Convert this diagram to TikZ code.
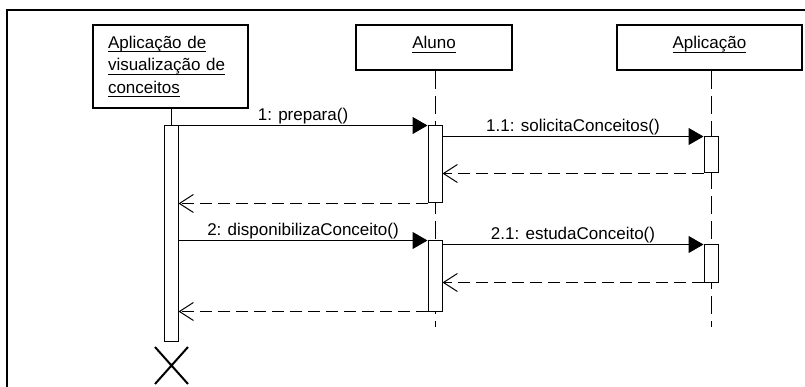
\documentclass[tikz,border=0pt]{standalone}
\usepackage{fontspec}
\setmainfont{Liberation Sans}
\usetikzlibrary{arrows.meta,shapes.misc}
% underlined object name with a fixed underline offset
\newcommand\uln[1]{\leavevmode\setbox0\hbox{#1}\rlap{\rule[-4.2pt]{\wd0}{0.9pt}}\box0}
\begin{document}
\begin{tikzpicture}[x=1pt,y=-1pt,
  every node/.style={font=\fontsize{17}{22.5}\selectfont},
  head/.style={draw,line width=2pt,minimum height=45pt,inner sep=0pt},
  life/.style={line width=1pt,dash pattern=on 18pt off 7pt},
  act/.style={draw,fill=white,line width=1pt,minimum width=14pt,inner sep=0pt},
  call/.style={line width=1pt,-{Triangle[length=15pt,width=17pt]}},
  reply/.style={line width=1pt,dash pattern=on 12pt off 6pt,-{Straight Barb[length=14pt,width=18pt]}},
  msg/.style={midway,anchor=base,yshift=5pt,inner sep=0pt}]
\useasboundingbox (0,0) rectangle (805,387);
\clip (0,0) rectangle (805,387);

% frame
\draw[line width=2pt] (7,395) -- (7,10) -- (812,10);

% object heads
\node[head,minimum width=155pt,minimum height=83pt,align=left,text width=125pt] (h1) at (170.5,66.5)
  {\uln{Aplicação de}\\\uln{visualização de}\\\uln{conceitos}};
\node[head,minimum width=156pt,text height=12.4pt,text depth=9.4pt] (h2) at (434,47.5) {\uln{Aluno}};
\node[head,minimum width=185pt,text height=12.4pt,text depth=9.4pt] (h3) at (709.5,47.5) {\uln{Aplicação}};

% lifelines
\coordinate (e2) at (435,327);
\coordinate (e3) at (711,327);
\draw[life] (e2 |- h2.south) -- (e2);
\draw[life] (e3 |- h3.south) -- (e3);

% activations
\node[act,minimum height=215pt] (a1) at (171,233.5) {};
\node[act,minimum height=77pt] (a2a) at (435,164.5) {};
\node[act,minimum height=70pt] (a2b) at (435,276) {};
\node[act,minimum height=36pt] (a3a) at (711,155) {};
\node[act,minimum height=37pt] (a3b) at (711,263.5) {};
\draw[line width=1pt] (a1.north |- h1.south) -- (a1.north);

% messages
\draw[call] (a1.east |- a2a.north) -- node[msg] (t1) {1: prepara()} (a2a.north west);
\draw[call] (a2a.east |- a3a.north) -- node[msg] (t11) {1.1: solicitaConceitos()} (a3a.north west);
\draw[reply] (a3a.south west) -- (a2a.east |- a3a.south);
\draw[reply] (a2a.south west) -- (a1.east |- a2a.south);
\draw[call] (a1.east |- a2b.north) -- node[msg] (t2) {2: disponibilizaConceito()} (a2b.north west);
\draw[call] (a2b.east |- a3b.north) -- node[msg] (t21) {2.1: estudaConceito()} (a3b.north west);
\draw[reply] (a3b.south west) -- (a2b.east |- a3b.south);
\draw[reply] (a2b.south west) -- (a1.east |- a2b.south);

% destruction
\node[draw,cross out,line width=2pt,minimum width=31pt,minimum height=35pt,inner sep=0pt] (x1) at (171.5,365.5) {};
\end{tikzpicture}
\end{document}
